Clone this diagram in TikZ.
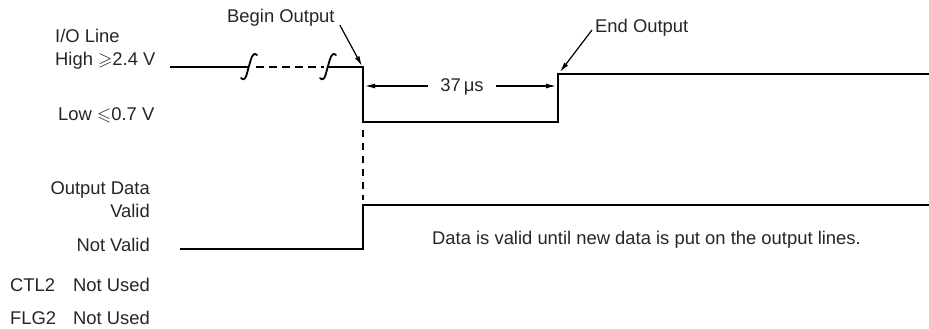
\documentclass[tikz,border=0pt]{standalone}
\usepackage{amssymb}
\usepackage{fontspec}
\setmainfont{Liberation Sans}
\usetikzlibrary{arrows.meta}

\begin{document}
\begin{tikzpicture}[x=1pt,y=-1pt,line cap=butt,line join=miter]
\colorlet{sigc}{black}
\colorlet{txtc}{black!85}

\tikzset{
lbl/.style={inner sep=0pt, text=txtc, font=\fontsize{18.4}{22}\selectfont},
sig/.style={draw=sigc, line width=1.9pt},
dashsig/.style={draw=sigc, line width=1.7pt, dash pattern=on 8pt off 5pt},
pointer/.style={draw=sigc, line width=1.2pt, -{Latex[length=10pt,width=5pt]}},
dimarrow/.style={draw=sigc, line width=1.2pt, -{Latex[length=10pt,width=5pt]}}
}

\useasboundingbox[fill=white] (0,0) rectangle (929,329);

% labels on the left
\node[lbl, anchor=base west] (iolbl) at (55,43) {I/O Line};
\node[lbl, anchor=base west] (highlbl) at (55,66) {High $\geqslant$2.4 V};
\node[lbl, anchor=base west] (lowlbl) at (58,121) {Low $\leqslant$0.7 V};
\node[lbl, anchor=base east] (odlbl) at (150,194) {Output Data};
\node[lbl, anchor=base east] (validlbl) at (150,217) {Valid};
\node[lbl, anchor=base east] (nvlbl) at (150,251) {Not Valid};
\node[lbl, anchor=base west] (ctllbl) at (10,291) {CTL2};
\node[lbl, anchor=base east] (ctlnu) at (150,291) {Not Used};
\node[lbl, anchor=base west] (flglbl) at (10,324) {FLG2};
\node[lbl, anchor=base east] (flgnu) at (150,324) {Not Used};

% I/O line
\coordinate (hi0) at (170,67);
\coordinate (brk1) at (249,67);
\coordinate (brk2) at (328,67);
\coordinate (fallhi) at (363,67);
\coordinate (falllo) at (363,122);
\coordinate (riselo) at (558,122);
\coordinate (risehi) at (558,74);
\coordinate (hiend) at (929,74);

\draw[sig] (hi0) -- (brk1);
\draw[dashsig] ([xshift=7pt]brk1) -- ([xshift=-4pt]brk2);
\draw[sig] (brk2) -- (fallhi) -- (falllo) -- (riselo) -- (risehi) -- (hiend);
\foreach \bx in {249,328}
  \draw[sig, line width=1.8pt, line cap=round] (\bx-8,78) .. controls (\bx-3,83) and (\bx-2,72) .. (\bx,66) .. controls (\bx+2,60) and (\bx+3,51) .. (\bx+8,55);

% output data line
\coordinate (nv0) at (180,249);
\coordinate (nvend) at (363,249);
\coordinate (vhi) at (363,205);
\coordinate (vend) at (929,205);
\draw[sig] (nv0) -- (nvend) -- (vhi) -- (vend);
\draw[dashsig, line width=1.5pt, dash pattern=on 7pt off 6pt] ([yshift=-8pt]falllo) -- ([yshift=5pt]vhi);

% timing marks
\node[lbl, anchor=base west] (beginlbl) at (227,23) {Begin Output};
\node[lbl, anchor=base west] (endlbl) at (595,33) {End Output};
\draw[pointer] ([xshift=5pt,yshift=-2pt]beginlbl.base east) -- ([xshift=-1pt,yshift=1pt]fallhi);
\draw[pointer] ([xshift=-3pt,yshift=3pt]endlbl.base west) -- ([xshift=2pt,yshift=2pt]risehi);

\node[lbl, anchor=base, inner xsep=12pt] (tlbl) at (462,92) {37\,μs};
\coordinate (tleft) at (365,86);
\coordinate (tright) at (556,86);
\draw[dimarrow] (tlbl.west |- tleft) -- (tleft);
\draw[dimarrow] (tlbl.east |- tright) -- (tright);

\node[lbl, anchor=base west] (datalbl) at (432,244) {Data is valid until new data is put on the output lines.};
\end{tikzpicture}
\end{document}
